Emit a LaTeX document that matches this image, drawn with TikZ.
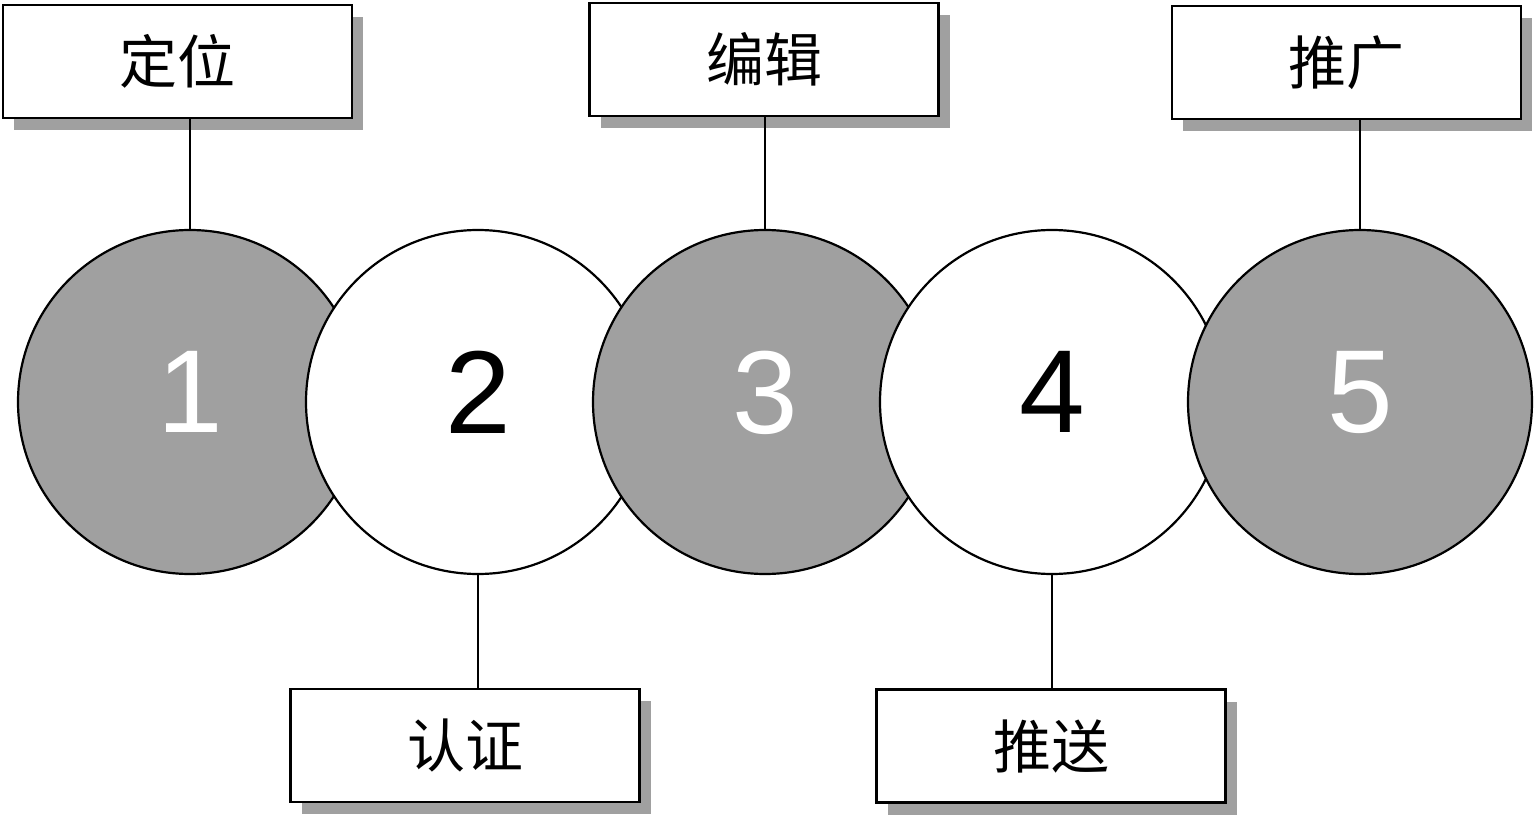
\documentclass[tikz,border=0pt]{standalone}
\usepackage{fontspec}
\setmainfont{Liberation Sans}
\newfontfamily\cjk{Noto Sans CJK SC}
\usetikzlibrary{shadows}
\definecolor{discgray}{RGB}{160,160,160}
\tikzset{
  disc/.style={circle,draw,line width=2.2pt,minimum size=344pt,inner sep=0pt,
    text depth=20pt,font=\fontsize{118}{118}\selectfont},
  dark/.style={disc,fill=discgray,text=white},
  light/.style={disc,fill=white,text=black},
  tag/.style={rectangle,draw,line width=2.6pt,fill=white,minimum width=349pt,
    minimum height=113pt,font=\cjk\fontsize{58}{58}\selectfont,
    drop shadow={shadow xshift=11pt,shadow yshift=-12pt,fill=discgray,opacity=1}}
}
\begin{document}
\begin{tikzpicture}[x=1pt,y=-1pt]
      \useasboundingbox (0,0) rectangle (1535,816);
      \draw
        (190,402) node[dark] (1){1}
        (478,402) node[light] (2){2}
        (765,402) node[dark] (3){3}
        (1052,402) node[light] (4){4}
        (1360,402) node[dark] (5){5};
      \draw
        (177.5,61.5) node[tag] (t1){定位}
        (465,745.5) node[tag] (t2){认证}
        (764,59.5) node[tag] (t3){编辑}
        (1051,746) node[tag] (t4){推送}
        (1346.5,62.5) node[tag] (t5){推广};
      \begin{scope}[-,line width=2pt]
        \draw (1.north) to (1.north |- t1.south);
        \draw (2.south) to (2.south |- t2.north);
        \draw (3.north) to (3.north |- t3.south);
        \draw (4.south) to (4.south |- t4.north);
        \draw (5.north) to (5.north |- t5.south);
      \end{scope}
    \end{tikzpicture}
\end{document}
